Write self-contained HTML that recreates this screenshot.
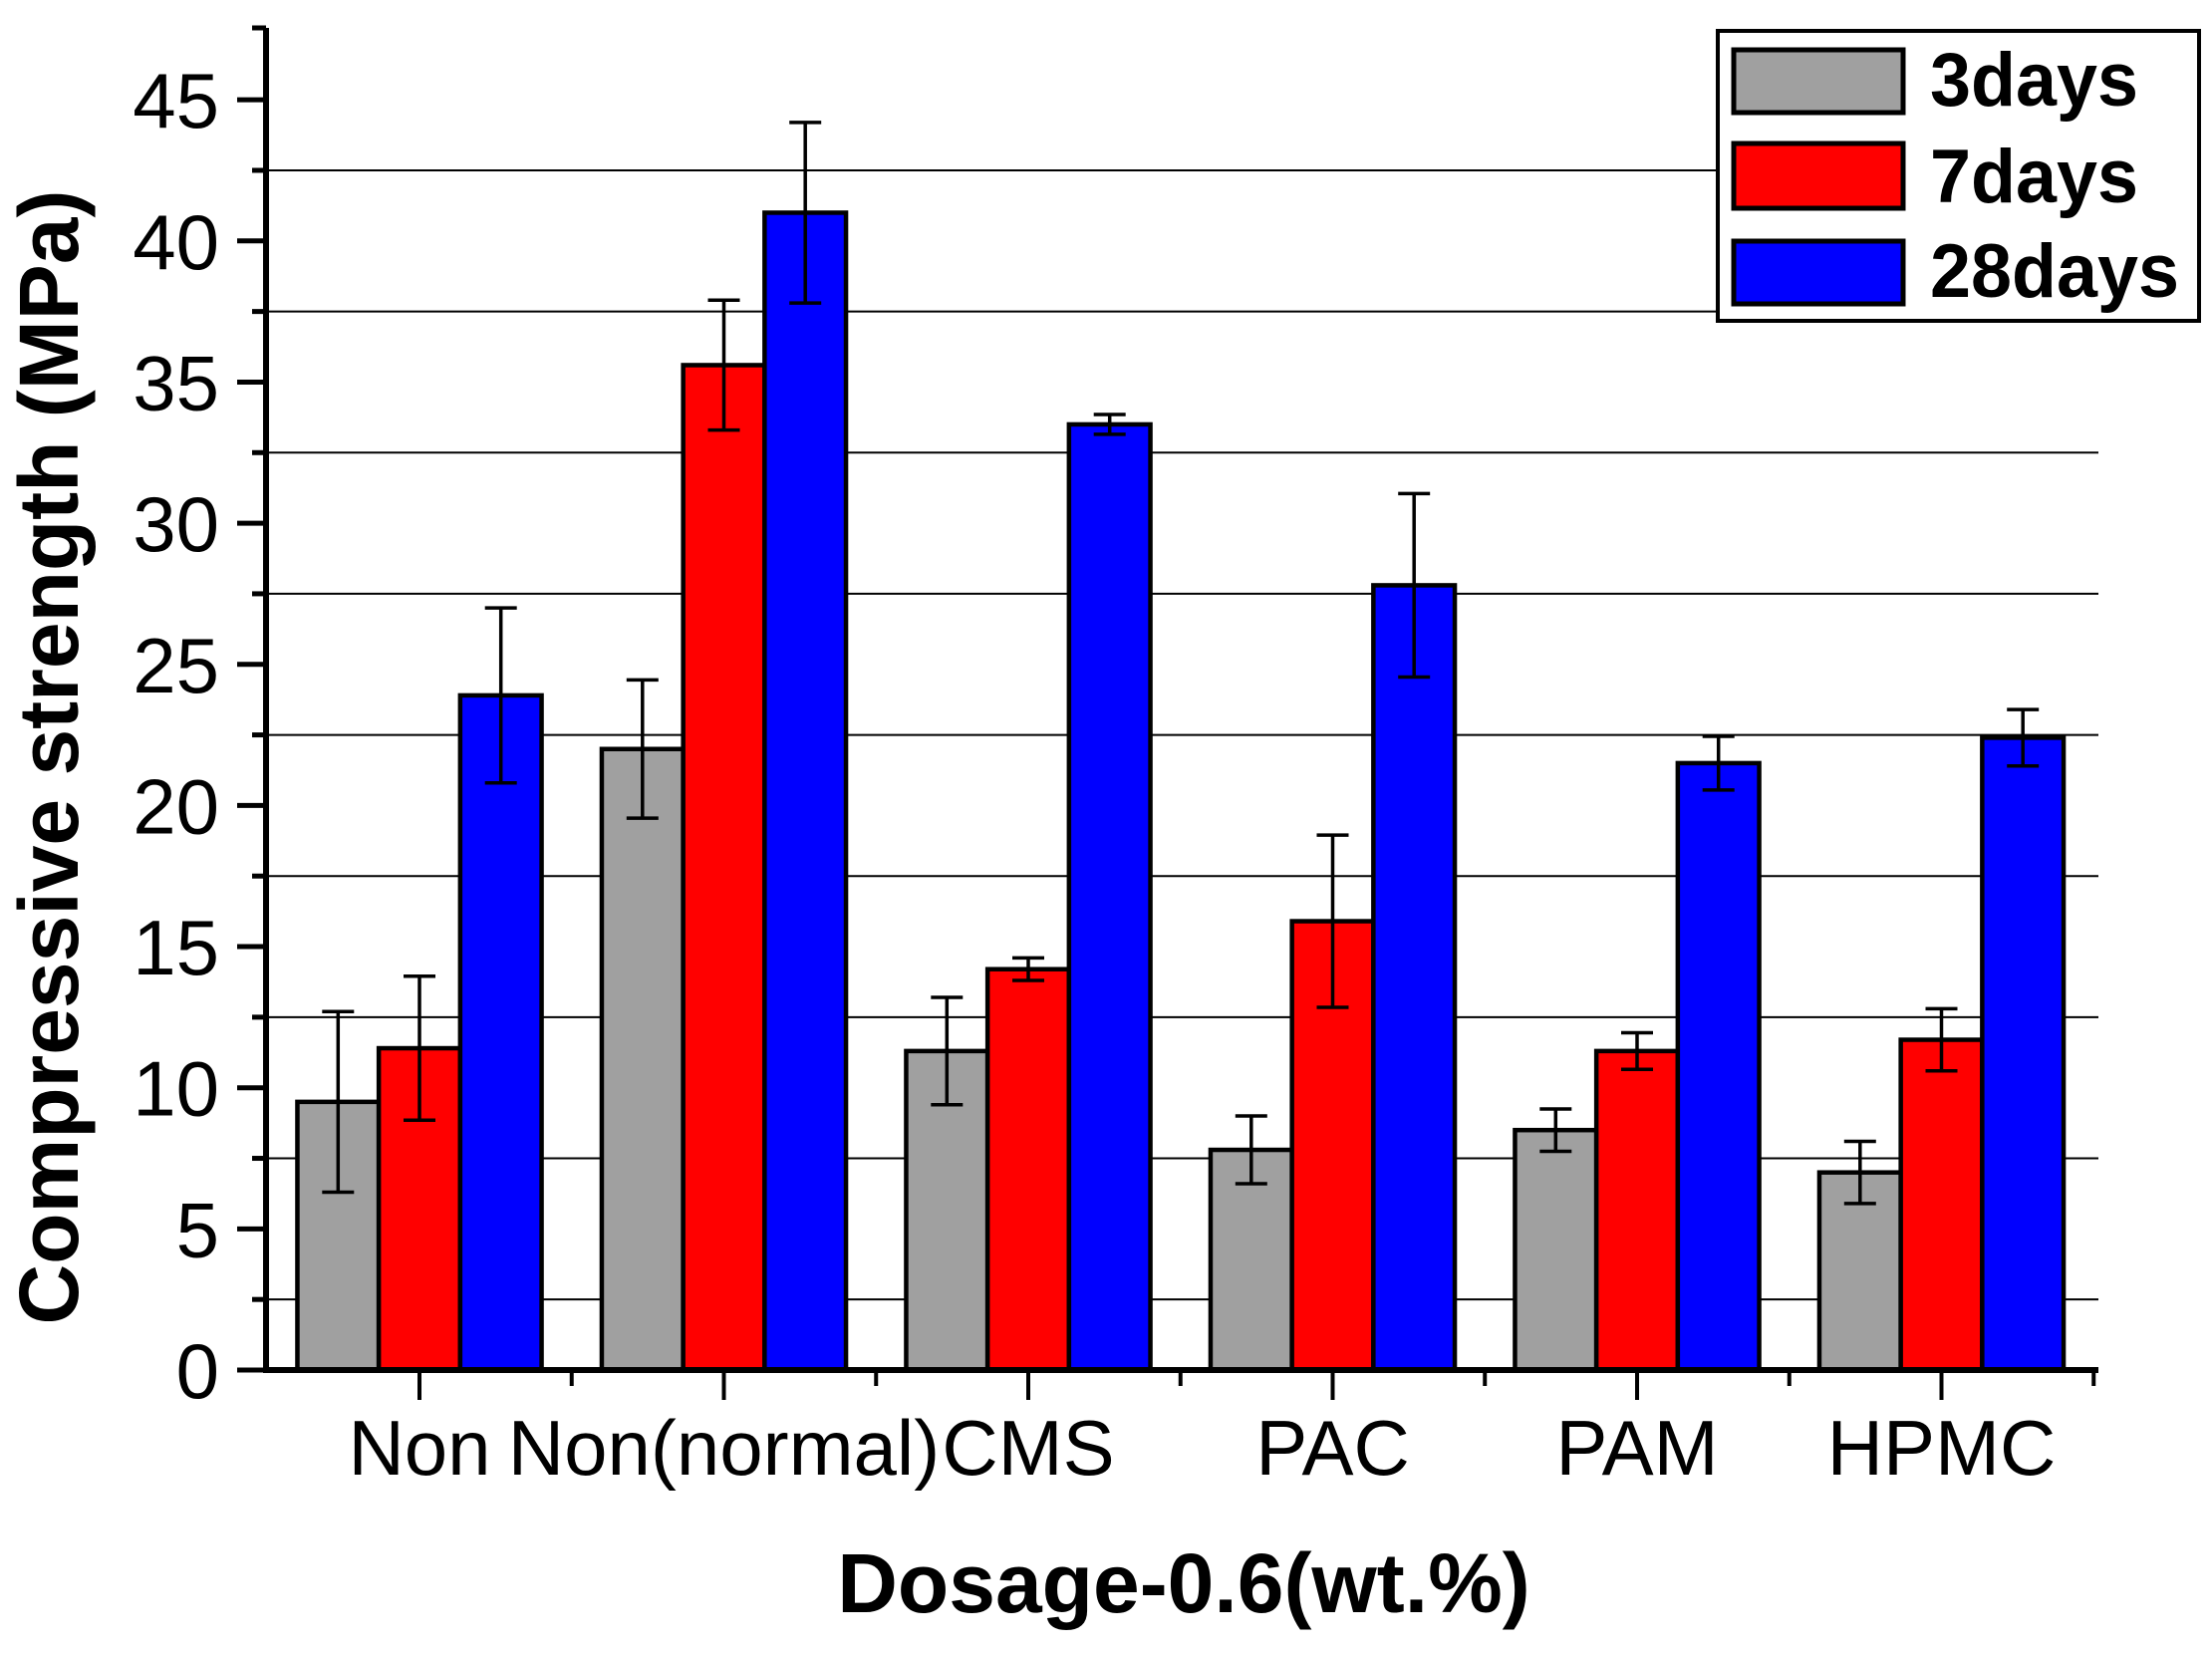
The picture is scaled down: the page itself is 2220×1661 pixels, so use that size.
<!DOCTYPE html>
<html><head><meta charset="utf-8"><style>
html,body{margin:0;padding:0;background:#fff;}
svg{display:block;font-family:"Liberation Sans",Arial,sans-serif;}
</style></head><body>
<svg id="chart" width="2220" height="1661" viewBox="0 0 2220 1661" xmlns="http://www.w3.org/2000/svg">
<g id="grid"></g>
<g id="bars"></g>
<g id="axes"></g>
<text transform="translate(78,760) rotate(-90)" text-anchor="middle" font-size="84" font-weight="bold">Compressive strength (MPa)</text>
<text x="1188" y="1618" text-anchor="middle" font-size="84" font-weight="bold">Dosage-0.6(wt.%)</text>
<g>
<rect x="1724" y="31" width="483" height="291" fill="#fff" stroke="#000" stroke-width="4"/>
<rect x="1740" y="50" width="170" height="63" fill="#a0a0a0" stroke="#000" stroke-width="5"/>
<text x="1937" y="106" font-size="76" font-weight="bold" textLength="209" lengthAdjust="spacingAndGlyphs">3days</text>
<rect x="1740" y="144" width="170" height="65" fill="#ff0000" stroke="#000" stroke-width="5"/>
<text x="1937" y="203" font-size="76" font-weight="bold" textLength="209" lengthAdjust="spacingAndGlyphs">7days</text>
<rect x="1740" y="242" width="170" height="63" fill="#0000ff" stroke="#000" stroke-width="5"/>
<text x="1937" y="298" font-size="76" font-weight="bold" textLength="250" lengthAdjust="spacingAndGlyphs">28days</text>
</g>
</svg>
<script>
const categories = ["Non","Non(normal)","CMS","PAC","PAM","HPMC"];
const seriesNames = ["3days","7days","28days"];
const values3 = [9.5, 22.0, 11.3, 7.8, 8.5, 7.0];
const values7 = [11.4, 35.6, 14.2, 15.9, 11.3, 11.7];
const values28 = [23.9, 41.0, 33.5, 27.8, 21.5, 22.4];
const err3 = [3.2, 2.45, 1.9, 1.2, 0.75, 1.1];
const err7 = [2.55, 2.3, 0.4, 3.05, 0.65, 1.1];
const err28 = [3.1, 3.2, 0.35, 3.25, 0.95, 1.0];
const yTicks = [0,5,10,15,20,25,30,35,40,45];
const yMinorTicks = [2.5,7.5,12.5,17.5,22.5,27.5,32.5,37.5,42.5];

const NS="http://www.w3.org/2000/svg";
const X0=267, X1=2106, Y0=1375, PXU=28.33, GW=305.5, BW=81.7;
const colors=["#a0a0a0","#ff0000","#0000ff"];
function yS(v){return Y0 - v*PXU;}
function xC(i){return 421 + i*GW;}
function mk(tag,attrs,parent){const e=document.createElementNS(NS,tag);for(const k in attrs)e.setAttribute(k,attrs[k]);parent.appendChild(e);return e;}
const grid=document.getElementById('grid'), bars=document.getElementById('bars'), axes=document.getElementById('axes');

yMinorTicks.forEach(v=>{
  const l=mk('line',{x1:X0,x2:X1,y1:yS(v),y2:yS(v),stroke:'#000','stroke-width':2},grid);
  
  
});

const allVals=[values3,values7,values28], allErr=[err3,err7,err28];
categories.forEach((c,i)=>{
  for(let s=0;s<3;s++){
    const v=allVals[s][i], e=allErr[s][i];
    const x=xC(i)-1.5*BW+s*BW;
    const r=mk('rect',{x:x,y:yS(v),width:BW,height:Y0-yS(v),fill:colors[s],stroke:'#000','stroke-width':4.5},bars);
    
    
    const cx=x+BW/2;
    const g=mk('g',{stroke:'#000','stroke-width':3.5},bars);
    
    
    mk('line',{x1:cx,x2:cx,y1:yS(v+e),y2:yS(v-e)},g);
    mk('line',{x1:cx-16,x2:cx+16,y1:yS(v+e),y2:yS(v+e)},g);
    mk('line',{x1:cx-16,x2:cx+16,y1:yS(v-e),y2:yS(v-e)},g);
  }
});

mk('line',{x1:X0,x2:X0,y1:28,y2:Y0+3,stroke:'#000','stroke-width':6},axes);
mk('line',{x1:X0-3,x2:X1,y1:Y0,y2:Y0,stroke:'#000','stroke-width':6},axes);
mk('line',{x1:X0-14,x2:X0,y1:28,y2:28,stroke:'#000','stroke-width':5},axes);
yTicks.forEach(v=>{
  mk('line',{x1:X0-29,x2:X0,y1:yS(v),y2:yS(v),stroke:'#000','stroke-width':5},axes);
  const t=mk('text',{x:220,y:yS(v)+28,'text-anchor':'end','font-size':78},axes);
  t.textContent=v;
  
  
});
yMinorTicks.forEach(v=>{
  mk('line',{x1:X0-14,x2:X0,y1:yS(v),y2:yS(v),stroke:'#000','stroke-width':5},axes);
});
categories.forEach((c,i)=>{
  mk('line',{x1:xC(i),x2:xC(i),y1:Y0,y2:Y0+30,stroke:'#000','stroke-width':4},axes);
  mk('line',{x1:xC(i)+GW/2,x2:xC(i)+GW/2,y1:Y0,y2:Y0+16,stroke:'#000','stroke-width':4},axes);
  const t=mk('text',{x:xC(i),y:1480,'text-anchor':'middle','font-size':78},axes);
  t.textContent=c;
  
  
});
</script>
</body></html>
